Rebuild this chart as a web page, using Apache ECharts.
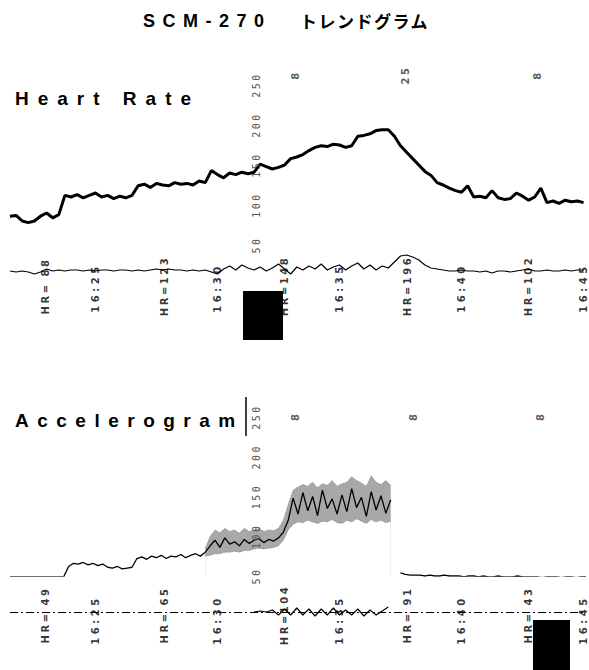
<!DOCTYPE html>
<html><head><meta charset="utf-8">
<script src="https://cdn.jsdelivr.net/npm/echarts@6/dist/echarts.min.js"></script>
<style>html,body{margin:0;padding:0;background:#fff}#c{width:589px;height:670px}</style>
</head><body><div id="c"></div>
<script>
// time axis in minutes after 16:00
const timeStart = 21.5;
const timeEnd = 45.1;
const hrStep = 0.25;
const heartRate = [86,87,80,78,80,86,90,84,88,112,
 110,113,109,112,115,110,112,108,111,109,
 112,124,126,122,127,125,124,128,126,127,
 125,130,128,143,138,134,140,138,141,139,
 141,151,148,145,147,150,158,160,163,168,
 172,174,173,176,175,172,174,186,187,189,
 193,194,194,186,174,166,158,150,142,137,
 128,125,121,118,116,124,110,111,109,118,
 109,107,108,115,111,106,110,121,103,105,
 102,106,104,105,103];
const subTrace = [0,-1,0,-1,-3,-1,2,0,1,0,
 1,1,0,1,0,1,1,0,1,1,
 0,1,0,1,2,1,2,1,1,0,
 1,0,1,-1,-3,2,5,1,6,3,
 1,4,0,3,7,2,-3,4,1,5,
 2,7,1,4,6,1,5,8,2,6,
 1,5,3,9,15,16,14,11,6,3,
 2,1,0,0,1,0,0,-1,0,-2,
 0,0,-1,0,1,2,0,0,1,0,
 0,1,0,1,1];
const accelStep = 0.2;
const accel = [49,49,49,49,49,49,49,49,49,49,49,49,
 62,66,65,67,64,66,63,65,61,60,62,59,60,61,
 72,74,71,75,73,76,72,75,74,77,73,76,78,75,80,
 88,95,86,98,90,93,88,96,91,95,97,92,96,94,98,105,
 120,148,128,155,132,150,126,158,135,147,128,152,131,160,136,149,125,156,133,151,129,146,
 null,
 54,52,51,51,51,50,51,50,50,51,50,50,50,49,50,50,49,50,49,49,50,49,49,49,50,49,49,49,49,48,49,49,49,48,49,49,48,49,49];
const cloudStartIndex = 40;
const accelCloudLow = [75,76,78,78,80,80,81,80,82,82,84,85,84,85,86,88,95,108,115,118,117,120,118,116,119,118,121,117,116,120,118,122,119,116,121,118,120,117,119];
const accelCloudHigh = [85,100,108,104,110,106,108,104,110,106,108,110,106,108,107,110,120,140,158,162,165,163,168,161,166,164,170,163,166,168,175,170,167,163,176,168,165,170,164];
const lowerTraceStartIndex = 40;
const lowerTrace = [0,1,0,2,-3,3,-3,4,-3,3,-4,3,-3,4,-3,2,-3,3,-4,2,-3,1,5];
const timeTicks = [25,30,35,40,45];
const timeLabels = ['16:25','16:30','16:35','16:40','16:45'];
const hrMarkTimes = [22.95,27.85,32.75,37.8,42.75];
const hrMarksTop = ['HR= 88','HR=123','HR=148','HR=196','HR=102'];
const hrMarksBottom = ['HR= 49','HR= 65','HR=104','HR= 91','HR= 43'];
const topMarkTimes = [33.18,37.69,43.1];
const topMarkTexts = ['8','25','8'];
const bottomMarkTimes = [33.18,38.02,43.22];
const bottomMarkTexts = ['8','8','8'];

const tAt = (start, step, i) => +(start + i * step).toFixed(4);
const hrT = i => tAt(timeStart, hrStep, i);
const acT = i => tAt(timeStart, accelStep, i);

const grids = [
  {left:10, width:576, top:85, height:160},
  {left:10, width:576, top:250, height:80},
  {left:10, width:576, top:417, height:159},
  {left:10, width:576, top:585, height:60}
];
const xAxes = grids.map((g,i)=>({type:'value', gridIndex:i, min:timeStart, max:timeEnd, show:false}));
const valAxisLabel = {show:true, rotate:90, margin:3, fontSize:10, color:'#555', fontFamily:'DejaVu Sans Mono'};
const yAxes = [
  {type:'value', gridIndex:0, min:50, max:250, interval:50, offset:-254, z:10, axisLine:{show:false}, axisTick:{show:false}, splitLine:{show:false}, axisLabel:valAxisLabel},
  {type:'value', gridIndex:1, min:-59, max:21, show:false},
  {type:'value', gridIndex:2, min:50, max:250, interval:50, offset:-254, z:10, axisLine:{show:false}, axisTick:{show:false}, splitLine:{show:false}, axisLabel:valAxisLabel},
  {type:'value', gridIndex:3, min:-33, max:27, show:false}
];

function labelSeries(gi, times, texts, yv, fs, color){
  return {type:'scatter', xAxisIndex:gi, yAxisIndex:gi, symbolSize:1, silent:true, clip:false,
    itemStyle:{color:'transparent'},
    data: times.map((t,i)=>({name:texts[i], value:[t,yv]})),
    label:{show:true, position:'inside', rotate:90, formatter:'{b}', color:color||'#000', fontSize:fs||10, fontWeight:'bold', fontFamily:'DejaVu Sans'}};
}

const series = [
  {type:'line', name:'Heart Rate', xAxisIndex:0, yAxisIndex:0, symbol:'none', silent:true,
    lineStyle:{color:'#000', width:3}, data: heartRate.map((v,i)=>[hrT(i), v])},
  {type:'line', xAxisIndex:1, yAxisIndex:1, symbol:'none', silent:true,
    lineStyle:{color:'#000', width:1.2}, data: subTrace.map((v,i)=>[hrT(i), v])},
  labelSeries(1, hrMarkTimes, hrMarksTop, -15),
  labelSeries(1, timeTicks, timeLabels, -17),
  labelSeries(0, topMarkTimes, topMarkTexts, 262.5, 10, '#333'),
  // scatter cloud envelope: upper edge filled grey, lower edge masked white
  {type:'line', xAxisIndex:2, yAxisIndex:2, symbol:'none', silent:true, z:2,
    lineStyle:{color:'#777', width:0.8, type:'dotted'}, areaStyle:{color:'#a8a8a8', opacity:1, origin:'start'},
    data: accelCloudHigh.map((v,i)=>[acT(cloudStartIndex+i), v])},
  {type:'line', xAxisIndex:2, yAxisIndex:2, symbol:'none', silent:true, z:3,
    lineStyle:{color:'#777', width:0.8, type:'dotted'}, areaStyle:{color:'#fff', opacity:1, origin:'start'},
    data: accelCloudLow.map((v,i)=>[acT(cloudStartIndex+i), v])},
  {type:'line', name:'Accelerogram', xAxisIndex:2, yAxisIndex:2, symbol:'none', silent:true, z:4,
    connectNulls:false, lineStyle:{color:'#000', width:1.3}, data: accel.map((v,i)=>[acT(i), v])},
  labelSeries(2, bottomMarkTimes, bottomMarkTexts, 251, 10, '#333'),
  {type:'line', xAxisIndex:3, yAxisIndex:3, symbol:'none', silent:true,
    lineStyle:{color:'#000', width:1.2}, data: lowerTrace.map((v,i)=>[hrT(lowerTraceStartIndex+i), v]),
    markLine:{silent:true, symbol:'none', label:{show:false}, animation:false,
      lineStyle:{type:[8,3,2,3], color:'#000', width:1}, data:[{yAxis:0}]}},
  labelSeries(3, hrMarkTimes, hrMarksBottom, -3),
  labelSeries(3, timeTicks, timeLabels, -8)
];

const tStyle = (fs)=>({color:'#000', fontSize:fs, fontWeight:'bold', fontFamily:'Liberation Sans'});
const chart = echarts.init(document.getElementById('c'), null, {renderer:'svg'});
chart.setOption({
  animation:false,
  backgroundColor:'#fff',
  title:[
    {text:'SCM-270', left:143, top:12, padding:0, textStyle:tStyle(18)},
    {text:'トレンドグラム', left:300, top:12, padding:0, textStyle:Object.assign(tStyle(17),{fontFamily:'Noto Sans CJK JP'})},
    {text:'Heart Rate', left:15, top:89, padding:0, textStyle:tStyle(19)},
    {text:'Accelerogram', left:15, top:411, padding:0, textStyle:tStyle(19)}
  ],
  grid:grids, xAxis:xAxes, yAxis:yAxes, series:series,
  graphic:[
    {type:'line', shape:{x1:246,y1:397,x2:246,y2:436}, style:{stroke:'#000', lineWidth:1.5}},
    {type:'rect', shape:{x:243,y:291,width:40,height:49}, style:{fill:'#000'}, z:100},
    {type:'rect', shape:{x:533,y:620,width:37,height:50}, style:{fill:'#000'}, z:100}
  ]
});
const spacing = {'SCM-270':7.5, 'トレンドグラム':1.5, 'Heart Rate':9, 'Accelerogram':8.5};
function applySpacing(){
  document.querySelectorAll('#c text').forEach(el=>{
    const s = el.textContent;
    let ls = spacing[s];
    if (ls === undefined) {
      if (/^HR=/.test(s)) ls = 2.5;
      else if (/^\d\d:\d\d$/.test(s)) ls = 3.5;
      else if (/^\d+$/.test(s)) ls = 2.5;
    }
    if (ls !== undefined) el.setAttribute('letter-spacing', ls);
  });
}
chart.on('finished', applySpacing);
applySpacing();
setTimeout(applySpacing, 30);
</script></body></html>
